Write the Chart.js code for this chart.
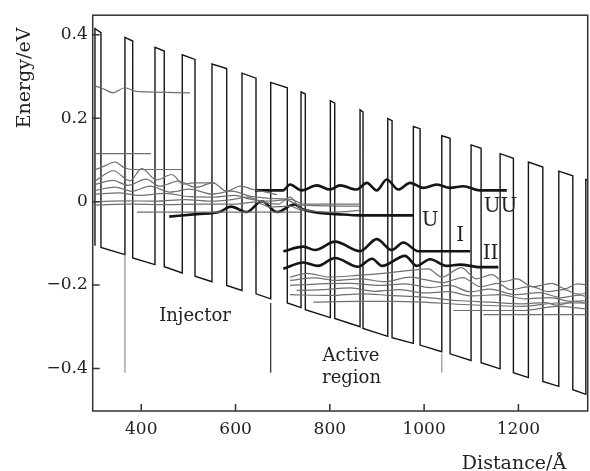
<!DOCTYPE html>
<html>
<head>
<meta charset="utf-8">
<script src="https://cdn.jsdelivr.net/npm/chart.js@4"></script>
<style>
html,body{margin:0;padding:0;background:#fff;}
#wrap{width:590px;height:471px;}
</style>
</head>
<body>
<div id="wrap"><canvas id="c" width="590" height="471"></canvas></div>
<script>
// ---- axes ----
const xMin = 297, xMax = 1347;
const yMin = -0.502, yMax = 0.447;
const xTickValues = [400, 600, 800, 1000, 1200];
const xTickLabels = ['400', '600', '800', '1000', '1200'];
const yTickValues = [-0.4, -0.2, 0, 0.2, 0.4];
const yTickLabels = ['\u22120.4', '\u22120.2', '0', '0.2', '0.4'];
const xTitle = 'Distance/\u00C5';
const yTitle = 'Energy/eV';

// ---- conduction band profile (barriers and wells) ----
const firstBarrierBottom = -0.106;
const barrierStart = [301.8,365.4,429.1,487.0,550.0,613.7,674.6,738.9,801.1,864.1,922.9,977.2,1037.5,1099.6,1161.2,1221.2,1285.7,1343.0];
const barrierEnd   = [314.5,381.8,448.8,514.0,581.2,643.4,709.8,748.0,810.4,870.4,932.0,991.4,1055.1,1120.9,1189.4,1251.8,1315.4,1360.0];
const barrierTopStart = [0.415,0.394,0.370,0.352,0.330,0.308,0.286,0.263,0.242,0.220,0.199,0.180,0.158,0.136,0.115,0.095,0.073,0.053];
const barrierTopEnd   = [0.405,0.385,0.361,0.341,0.319,0.296,0.273,0.258,0.236,0.215,0.194,0.175,0.152,0.128,0.104,0.083,0.062,0.047];
const wellBottomStart = [-0.110,-0.135,-0.156,-0.179,-0.201,-0.221,-0.243,-0.259,-0.280,-0.304,-0.326,-0.344,-0.365,-0.386,-0.410,-0.431,-0.451];
const wellBottomEnd   = [-0.127,-0.151,-0.171,-0.192,-0.213,-0.233,-0.254,-0.278,-0.300,-0.323,-0.340,-0.360,-0.381,-0.401,-0.422,-0.443,-0.462];

// ---- region marker lines ----
const markerX = [365.4, 674.6, 1037.5];
const markerTop = [-0.127, -0.243, -0.365];
const markerBottom = [-0.41, -0.41, -0.41];
const markerDark = [false, true, false];

// ---- labelled states (thick) ----
const stUU_x = [641.3,700.7,715.5,740.4,772.2,800.4,821.6,857.1,878.3,899.5,920.7,945.4,970.2,998.4,1026.8,1055.1,1083.3,1118.7,1175.4];
const stUU_E = [0.027,0.027,0.041,0.027,0.039,0.029,0.039,0.029,0.045,0.027,0.053,0.029,0.045,0.033,0.041,0.033,0.037,0.027,0.027];
const stU_x = [459.4,517.6,567.0,590.3,623.7,655.5,688.0,724.0,743.8,779.2,814.6,864.1,977.2];
const stU_E = [-0.036,-0.030,-0.024,-0.012,-0.025,0.001,-0.025,-0.007,-0.019,-0.027,-0.030,-0.033,-0.033];
const stI_x = [701.3,743.8,768.6,811.0,864.1,899.5,931.4,956.0,987.8,1097.5];
const stI_E = [-0.119,-0.108,-0.116,-0.096,-0.119,-0.090,-0.116,-0.098,-0.119,-0.119];
const stII_x = [701.3,743.8,775.0,811.0,859.9,889.5,910.8,959.6,984.4,1012.6,1048.1,1076.3,1118.7,1157.5];
const stII_E = [-0.161,-0.146,-0.154,-0.135,-0.156,-0.137,-0.154,-0.130,-0.154,-0.138,-0.154,-0.151,-0.157,-0.157];

// ---- injector states (thin grey) ----
const inj1_x = [303.9,320.8,339.9,365.4,386.6,412.1,503.3];
const inj1_E = [0.277,0.270,0.261,0.273,0.265,0.263,0.261];
const inj2_x = [303.9,420.6];
const inj2_E = [0.115,0.115];
const inj3_x = [303.9,325.1,344.2,363.3,380.3,486.4];
const inj3_E = [0.077,0.087,0.095,0.082,0.077,0.077];
const inj4_x = [303.9,340.6,376.0,400.8,432.7,464.5,489.1,510.3,556.4];
const inj4_E = [0.051,0.074,0.050,0.079,0.052,0.065,0.042,0.045,0.045];
const inj5_x = [303.9,339.9,371.7,409.9,439.6,477.8,516.0,552.1,581.2,609.4,637.7,687.3];
const inj5_E = [0.042,0.051,0.039,0.054,0.037,0.049,0.034,0.045,0.025,0.037,0.029,0.017];
const inj6_x = [303.9,344.2,380.3,418.5,460.9,503.3,550.0,592.4,630.6,673.0,721.9,743.1,864.1];
const inj6_E = [0.027,0.035,0.025,0.037,0.023,0.030,0.018,0.025,0.013,0.008,0.004,-0.006,-0.006];
const inj7_x = [303.9,350.6,397.2,450.3,503.3,556.4,598.8,630.6,668.8,704.9,736.7,864.1];
const inj7_E = [0.018,0.021,0.015,0.020,0.012,0.011,0.015,0.006,0.001,0.004,-0.008,-0.011];
const inj8_x = [303.9,365.4,429.1,492.7,545.8,592.4,626.4,656.1,690.0,715.5,736.7,764.3,806.8,864.1];
const inj8_E = [0.000,0.002,0.001,0.005,0.001,0.005,0.011,-0.001,-0.006,0.011,-0.015,-0.023,-0.025,-0.021];
const inj9_x = [303.9,376.0,450.3,524.6,598.8,641.3,673.0,715.5,736.7];
const inj9_E = [-0.008,-0.006,-0.007,-0.006,-0.006,-0.001,-0.013,-0.011,-0.020];
const inj10_x = [391.1,736.7];
const inj10_E = [-0.025,-0.025];

// ---- next-period states (thin grey) ----
const nxA_x = [715.5,751.0,800.4,857.1,927.8,970.2,1008.4,1038.2,1078.5,1110.3,1144.3,1167.6,1197.3,1229.2,1271.6,1299.2,1324.6,1347.9];
const nxA_E = [-0.181,-0.172,-0.181,-0.177,-0.170,-0.165,-0.161,-0.181,-0.158,-0.185,-0.175,-0.192,-0.185,-0.204,-0.196,-0.209,-0.197,-0.200];
const nxB_x = [715.5,768.6,811.0,864.1,917.1,970.2,1002.0,1040.2,1081.6,1119.8,1155.9,1183.4,1225.9,1263.8,1295.7,1327.5,1348.8];
const nxB_E = [-0.189,-0.183,-0.189,-0.185,-0.192,-0.181,-0.187,-0.194,-0.182,-0.204,-0.196,-0.211,-0.203,-0.216,-0.211,-0.222,-0.219];
const nxC_x = [715.5,779.2,842.8,906.5,959.5,1012.6,1055.1,1097.5,1140.0,1193.0,1246.1,1288.5,1331.0,1348.0];
const nxC_E = [-0.201,-0.197,-0.196,-0.201,-0.197,-0.206,-0.201,-0.216,-0.210,-0.223,-0.218,-0.230,-0.224,-0.230];
const nxD_x = [729.8,785.6,842.9,895.9,948.9,1002.0,1050.8,1101.7,1161.1,1214.2,1267.2,1309.7,1347.9];
const nxD_E = [-0.213,-0.211,-0.207,-0.215,-0.211,-0.219,-0.216,-0.226,-0.223,-0.233,-0.230,-0.239,-0.237];
const nxE_x = [715.5,800.4,870.5,927.8,997.8,1069.3,1139.9,1209.9,1256.6,1281.4,1320.3,1347.9];
const nxE_E = [-0.223,-0.225,-0.221,-0.225,-0.229,-0.237,-0.241,-0.245,-0.242,-0.248,-0.240,-0.245];
const nxF_x = [765.0,857.1,927.8,998.4,1069.3,1139.9,1210.6,1281.4,1345.1];
const nxF_E = [-0.241,-0.239,-0.239,-0.241,-0.246,-0.249,-0.251,-0.243,-0.243];
const nxG_x = [1062.1,1210.6,1281.4,1345.1];
const nxG_E = [-0.261,-0.261,-0.251,-0.257];
const nxH_x = [1125.7,1345.1];
const nxH_E = [-0.271,-0.271];

// ---- annotations (data coordinates) ----
const noteText = ['Injector', 'Active', 'region', 'U', 'UU', 'I', 'II'];
const noteX = [514.0, 845.0, 846.0, 1012.6, 1162.2, 1076.3, 1141.0];
const noteE = [-0.2745, -0.370, -0.424, -0.045, -0.012, -0.083, -0.124];
const noteSize = [18, 18, 18, 20, 20, 20, 20];

// ---- build datasets ----
const GREY = '#707070';
const BLACK = '#151515';
function series(xs, es, color, width, smooth) {
  return {
    data: xs.map((v, i) => ({x: v, y: es[i]})),
    showLine: true, borderColor: color, borderWidth: width,
    pointRadius: 0, pointHoverRadius: 0, fill: false,
    tension: smooth ? 0.4 : 0,
    cubicInterpolationMode: smooth ? 'monotone' : 'default'
  };
}
const profile = [{x: barrierStart[0], y: firstBarrierBottom}];
for (let i = 0; i < barrierStart.length; i++) {
  profile.push({x: barrierStart[i], y: barrierTopStart[i]});
  profile.push({x: barrierEnd[i], y: barrierTopEnd[i]});
  if (i < wellBottomStart.length) {
    profile.push({x: barrierEnd[i], y: wellBottomStart[i]});
    profile.push({x: barrierStart[i + 1], y: wellBottomEnd[i]});
  }
}
const datasets = [];
[[inj1_x,inj1_E],[inj2_x,inj2_E],[inj3_x,inj3_E],[inj4_x,inj4_E],[inj5_x,inj5_E],
 [inj6_x,inj6_E],[inj7_x,inj7_E],[inj8_x,inj8_E],[inj9_x,inj9_E],[inj10_x,inj10_E],
 [nxA_x,nxA_E],[nxB_x,nxB_E],[nxC_x,nxC_E],[nxD_x,nxD_E],[nxE_x,nxE_E],
 [nxF_x,nxF_E],[nxG_x,nxG_E],[nxH_x,nxH_E]].forEach(p => datasets.push(series(p[0], p[1], GREY, 1.2, true)));
markerX.forEach((mx, i) => datasets.push(series([mx, mx], [markerTop[i], markerBottom[i]], markerDark[i] ? BLACK : '#888', 1.1, false)));
datasets.push({data: profile, showLine: true, borderColor: BLACK, borderWidth: 1.4, pointRadius: 0, tension: 0, fill: false, borderJoinStyle: 'miter'});
[[stUU_x,stUU_E],[stU_x,stU_E],[stI_x,stI_E],[stII_x,stII_E]].forEach(p => datasets.push(series(p[0], p[1], BLACK, 2.6, true)));

const FONT = "'DejaVu Serif', serif";
const deco = {
  id: 'deco',
  afterDraw(chart) {
    const {ctx, chartArea: a, scales} = chart;
    const sx = scales.x, sy = scales.y;
    ctx.save();
    ctx.strokeStyle = '#333';
    ctx.lineWidth = 1.5;
    ctx.strokeRect(a.left, a.top, a.right - a.left, a.bottom - a.top);
    ctx.beginPath();
    sx.ticks.forEach(t => { const p = sx.getPixelForValue(t.value); ctx.moveTo(p, a.bottom); ctx.lineTo(p, a.bottom - 7); });
    sy.ticks.forEach(t => { const p = sy.getPixelForValue(t.value); ctx.moveTo(a.left, p); ctx.lineTo(a.left + 7, p); });
    ctx.stroke();
    ctx.fillStyle = '#222';
    ctx.textAlign = 'center';
    ctx.textBaseline = 'middle';
    noteText.forEach((t, i) => {
      ctx.font = noteSize[i] + 'px ' + FONT;
      ctx.fillText(t, sx.getPixelForValue(noteX[i]), sy.getPixelForValue(noteE[i]));
    });
    ctx.font = '19px ' + FONT;
    ctx.textBaseline = 'alphabetic';
    ctx.fillText(xTitle, 514, 469);
    ctx.save();
    ctx.translate(25.5, 78);
    ctx.rotate(-Math.PI / 2);
    ctx.textBaseline = 'middle';
    ctx.fillText(yTitle, 0, 0);
    ctx.restore();
    ctx.restore();
  }
};

new Chart(document.getElementById('c'), {
  type: 'scatter',
  data: {datasets},
  plugins: [deco],
  options: {
    responsive: false,
    animation: false,
    devicePixelRatio: 1,
    layout: {padding: {left: 0, right: 2.3, top: 12.7, bottom: 0}},
    plugins: {legend: {display: false}, tooltip: {enabled: false}},
    scales: {
      x: {
        type: 'linear', min: xMin, max: xMax,
        afterBuildTicks: s => { s.ticks = xTickValues.map(v => ({value: v})); },
        afterFit: s => { s.height = 60; },
        grid: {display: false, drawTicks: false},
        border: {display: false},
        ticks: {
          padding: 8, color: '#222', font: {family: FONT, size: 17},
          maxRotation: 0, autoSkip: false,
          callback: v => xTickLabels[xTickValues.indexOf(v)]
        }
      },
      y: {
        type: 'linear', min: yMin, max: yMax,
        afterBuildTicks: s => { s.ticks = yTickValues.map(v => ({value: v})); },
        afterFit: s => { s.width = 92.7; },
        grid: {display: false, drawTicks: false},
        border: {display: false},
        ticks: {
          padding: 5, color: '#222', font: {family: FONT, size: 17},
          autoSkip: false,
          callback: v => yTickLabels[yTickValues.indexOf(v)]
        }
      }
    }
  }
});
</script>
</body>
</html>
